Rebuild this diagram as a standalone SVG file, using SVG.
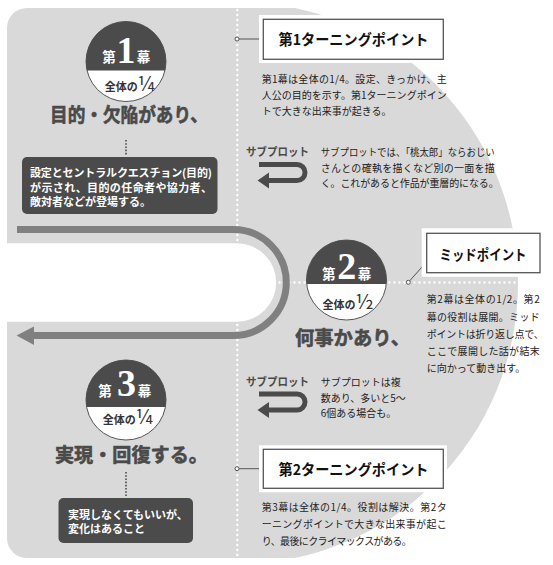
<svg xmlns="http://www.w3.org/2000/svg" width="553" height="565" viewBox="0 0 553 565">
<style>
.jp{font-family:"Noto Sans CJK JP","Noto Sans",sans-serif}
.title{font-size:19.5px;font-weight:bold;fill:#4a4a4a;stroke:#4a4a4a;stroke-width:0.6}
.desc{font-size:10px;fill:#222}
.lbl{font-size:14.5px;font-weight:bold;fill:#111}
.sub{font-size:11px;font-weight:bold;fill:#4a4a4a}
.boxt{font-size:11px;font-weight:bold;fill:#fff}
.cj{font-size:13.5px;font-weight:bold;fill:#fff}
.num{font-family:"Liberation Serif","DejaVu Serif",serif;font-size:38px;font-weight:bold;fill:#fff}
.frac{font-size:11px;font-weight:bold;fill:#333}
.fr{font-size:20px;font-weight:normal}
.dots{stroke:#fff;stroke-width:2.4;stroke-linecap:round;stroke-dasharray:0 5;fill:none}
.ddots{stroke:#4a4a4a;stroke-width:1.6;stroke-dasharray:1.6 1.6;fill:none}
.dark{fill:#4b4b4b}
.ring{fill:#fff;stroke:#555;stroke-width:1}
.tbox{fill:#fff;stroke:#555;stroke-width:1.3}
.pad{fill:#fff}
.conn{stroke:#555;stroke-width:1;fill:none}
.pin{fill:#fff;stroke:#555;stroke-width:1}
.uarr{stroke:#808080;stroke-width:7;fill:none}
.icon{stroke:#4b4b4b;stroke-width:5;fill:none}
</style>
<defs>
<clipPath id="bgclip"><path d="M27,8 H553 V558 H27 A20,20 0 0 1 7,538 V28 A20,20 0 0 1 27,8 Z"/></clipPath>
</defs>

<g id="background">
<g clip-path="url(#bgclip)">
<rect x="0" y="0" width="238" height="565" fill="#d9d9d9"/>
<circle cx="237" cy="283" r="281" fill="#d9d9d9"/>
</g>
<path d="M0,243.3 H237 A39.2,39.2 0 0 1 237,321.7 H0 Z" fill="#fff"/>
<line class="dots" x1="237.3" y1="10" x2="237.3" y2="557"/>
<line class="dots" x1="279.5" y1="282.5" x2="518" y2="282.5"/>
</g>

<g id="connectors">
<path class="uarr" d="M17,229.5 H233.3 A53,53 0 0 1 233.3,335.5 H32"/>
<polygon points="16.5,335.5 34,326.5 34,345" fill="#808080"/>
<line class="ddots" x1="126" y1="140" x2="126" y2="156"/>
<line class="ddots" x1="126" y1="472" x2="126" y2="497"/>
<line class="conn" x1="239" y1="39" x2="263" y2="39"/>
<line class="conn" x1="239" y1="468.7" x2="263" y2="468.7"/>
<line class="conn" x1="409.5" y1="281" x2="422" y2="267"/>
<circle class="pin" cx="237" cy="39" r="2"/>
<circle class="pin" cx="237" cy="468.7" r="2"/>
<circle class="pin" cx="408.3" cy="282.3" r="2"/>
</g>

<g id="act1">
<circle class="ring" cx="126" cy="61.5" r="40"/>
<path class="dark" d="M87.03,70.5 A40,40 0 1 1 164.97,70.5 Z"/>
<text class="jp cj" x="109" y="62" text-anchor="middle">第</text>
<text class="num" x="126" y="62.5" text-anchor="middle">1</text>
<text class="jp cj" x="143.5" y="62" text-anchor="middle">幕</text>
<text class="jp frac" x="130" y="91" text-anchor="middle">全体の<tspan class="fr">¼</tspan></text>
<text class="jp title" x="50" y="121.5" textLength="158" lengthAdjust="spacingAndGlyphs">目的・欠陥があり、</text>
</g>

<g id="act1-box">
<rect class="dark" x="22" y="157" width="195.5" height="57" rx="5"/>
<text class="jp boxt" x="30" y="177" textLength="182" lengthAdjust="spacing">設定とセントラルクエスチョン(目的)</text>
<text class="jp boxt" x="30" y="191.5" textLength="182" lengthAdjust="spacing">が示され、目的の任命者や協力者、</text>
<text class="jp boxt" x="30" y="206">敵対者などが登場する。</text>
</g>

<g id="turning1">
<rect class="pad" x="259" y="15" width="188" height="48"/>
<rect class="tbox" x="263.3" y="19.3" width="180" height="40"/>
<text class="jp lbl" x="278.5" y="45.3" textLength="150" lengthAdjust="spacingAndGlyphs">第1ターニングポイント</text>
<text class="jp desc" x="261.7" y="83" textLength="185" lengthAdjust="spacing">第1幕は全体の1/4。設定、きっかけ、主</text>
<text class="jp desc" x="261.7" y="99" textLength="185" lengthAdjust="spacing">人公の目的を示す。第1ターニングポイン</text>
<text class="jp desc" x="261.7" y="115">トで大きな出来事が起きる。</text>
</g>

<g id="subplot1">
<text class="jp sub" x="246" y="155.5" textLength="63" lengthAdjust="spacingAndGlyphs">サブプロット</text>
<path class="icon" d="M259,164.5 H297 A8,8 0 0 1 297,180.5 H268"/>
<polygon points="257.5,180.5 269,172.5 269,188.5" fill="#4b4b4b"/>
<text class="jp desc" x="320.7" y="156" textLength="174" lengthAdjust="spacingAndGlyphs">サブプロットでは、「桃太郎」ならおじい</text>
<text class="jp desc" x="320.7" y="171.5" textLength="174" lengthAdjust="spacing">さんとの確執を描くなど別の一面を描</text>
<text class="jp desc" x="320.7" y="187" textLength="178" lengthAdjust="spacing">く。これがあると作品が重層的になる。</text>
</g>

<g id="act2">
<circle class="ring" cx="346.5" cy="280" r="40"/>
<path class="dark" d="M306.7,284 A40,40 0 1 1 386.3,284 Z"/>
<text class="jp cj" x="328.8" y="278.5" text-anchor="middle">第</text>
<text class="num" x="346.7" y="278.5" text-anchor="middle">2</text>
<text class="jp cj" x="364.5" y="278.5" text-anchor="middle">幕</text>
<text class="jp frac" x="348" y="308.5" text-anchor="middle">全体の<tspan class="fr">½</tspan></text>
<text class="jp title" x="295" y="345" textLength="115" lengthAdjust="spacingAndGlyphs">何事かあり、</text>
</g>

<g id="midpoint">
<rect class="pad" x="421.7" y="228.3" width="124" height="48.5"/>
<rect class="tbox" x="426.7" y="233.3" width="113.3" height="39.4"/>
<text class="jp lbl" x="439.5" y="259.5" textLength="87" lengthAdjust="spacingAndGlyphs">ミッドポイント</text>
<text class="jp desc" x="426.7" y="303" textLength="113" lengthAdjust="spacing">第2幕は全体の1/2。第2</text>
<text class="jp desc" x="426.7" y="320.5" textLength="113" lengthAdjust="spacing">幕の役割は展開。ミッド</text>
<text class="jp desc" x="426.7" y="337.5" textLength="117" lengthAdjust="spacing">ポイントは折り返し点で、</text>
<text class="jp desc" x="426.7" y="354.5" textLength="113" lengthAdjust="spacing">ここで展開した話が結末</text>
<text class="jp desc" x="426.7" y="371.5">に向かって動き出す。</text>
</g>

<g id="subplot2">
<text class="jp sub" x="246" y="385.5" textLength="63" lengthAdjust="spacingAndGlyphs">サブプロット</text>
<path class="icon" d="M259,394 H297 A8,8 0 0 1 297,410 H268"/>
<polygon points="257.5,410 269,402 269,418" fill="#4b4b4b"/>
<text class="jp desc" x="320.7" y="386">サブプロットは複</text>
<text class="jp desc" x="320.7" y="401.5">数あり、多いと5〜</text>
<text class="jp desc" x="320.7" y="417">6個ある場合も。</text>
</g>

<g id="act3">
<circle class="ring" cx="126" cy="400" r="40"/>
<path class="dark" d="M86.6,407 A40,40 0 1 1 165.4,407 Z"/>
<text class="jp cj" x="105" y="395.5" text-anchor="middle">第</text>
<text class="num" x="126.5" y="396" text-anchor="middle">3</text>
<text class="jp cj" x="144.5" y="395.5" text-anchor="middle">幕</text>
<text class="jp frac" x="128" y="424" text-anchor="middle">全体の<tspan class="fr">¼</tspan></text>
<text class="jp title" x="55" y="462" textLength="153" lengthAdjust="spacingAndGlyphs">実現・回復する。</text>
</g>

<g id="act3-box">
<rect class="dark" x="58.5" y="498" width="134.5" height="45" rx="5"/>
<text class="jp boxt"><tspan x="68" y="518.5">実現しなくてもいいが、</tspan><tspan x="68" y="533">変化はあること</tspan></text>
</g>

<g id="turning2">
<rect class="pad" x="259" y="445.3" width="188" height="47"/>
<rect class="tbox" x="263.3" y="449.3" width="180" height="39"/>
<text class="jp lbl" x="278.5" y="475" textLength="150" lengthAdjust="spacingAndGlyphs">第2ターニングポイント</text>
<text class="jp desc" x="261.7" y="511" textLength="185" lengthAdjust="spacing">第3幕は全体の1/4。役割は解決。第2タ</text>
<text class="jp desc" x="261.7" y="528" textLength="185" lengthAdjust="spacing">ーニングポイントで大きな出来事が起こ</text>
<text class="jp desc" x="261.7" y="544.5" textLength="150" lengthAdjust="spacing">り、最後にクライマックスがある。</text>
</g>
</svg>
